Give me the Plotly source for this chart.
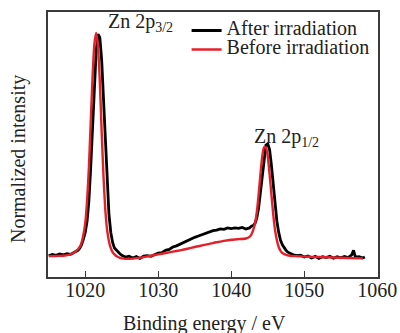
import plotly.graph_objects as go

# ---- data ----
after_x = [1015, 1015.5, 1016, 1016.5, 1017, 1017.5, 1018, 1018.5,
           1019, 1019.25, 1019.5, 1019.75, 1020, 1020.25, 1020.5, 1020.75,
           1021, 1021.25, 1021.5, 1021.75, 1022, 1022.25, 1022.5, 1022.75,
           1023, 1023.25, 1023.5, 1023.75, 1024, 1024.25, 1024.5, 1024.75, 1025,
           1025.25, 1025.5, 1026, 1026.5, 1027, 1027.5, 1028, 1028.5, 1029, 1029.5,
           1030, 1030.5, 1031, 1031.5, 1032, 1032.5, 1033, 1033.5, 1034, 1034.5,
           1035, 1035.5, 1036, 1036.5, 1037, 1037.5, 1038, 1038.5, 1039, 1039.5,
           1040, 1040.5, 1041, 1041.5, 1042, 1042.5,
           1042.75, 1043, 1043.25, 1043.5, 1043.75, 1044, 1044.25, 1044.5, 1044.75,
           1045, 1045.25, 1045.5, 1045.75, 1046, 1046.25, 1046.5, 1046.75,
           1047, 1047.25, 1047.5, 1047.75, 1048,
           1048.5, 1049, 1049.5, 1050, 1050.5, 1051, 1051.5, 1052, 1052.5, 1053,
           1053.5, 1054, 1054.5, 1055, 1055.5, 1056, 1056.5, 1056.75, 1057, 1057.5,
           1058, 1058.3]
after_y = [0.006, 0.012, 0.008, 0.014, 0.010, 0.015, 0.012, 0.020,
           0.030, 0.040, 0.055, 0.080, 0.110, 0.160, 0.250, 0.400,
           0.580, 0.760, 0.920, 0.995, 0.980, 0.880, 0.700, 0.500,
           0.320, 0.190, 0.110, 0.065, 0.040, 0.030, 0.022, 0.015, 0.008,
           0.004, 0.000, 0.004, -0.004, 0.002, -0.006, 0.004, 0.006, 0.003, 0.012,
           0.018, 0.020, 0.030, 0.034, 0.045, 0.050, 0.058, 0.066, 0.072, 0.082,
           0.088, 0.094, 0.100, 0.108, 0.112, 0.118, 0.120, 0.126, 0.124, 0.130,
           0.127, 0.130, 0.128, 0.132, 0.125, 0.130,
           0.138, 0.140, 0.150, 0.175, 0.220, 0.290, 0.370, 0.450, 0.500,
           0.505, 0.480, 0.410, 0.320, 0.230, 0.160, 0.110, 0.075,
           0.055, 0.040, 0.030, 0.022, 0.018,
           0.010, 0.006, 0.008, 0.000, 0.005, -0.004, 0.003, -0.006, 0.002, -0.002,
           0.004, -0.005, 0.002, -0.003, 0.003, -0.002, 0.010, 0.030, 0.000, 0.002,
           -0.004, 0.000]

before_x = [1015, 1016, 1017, 1018, 1018.5,
            1019, 1019.25, 1019.5, 1019.75, 1020, 1020.25, 1020.5, 1020.75,
            1021, 1021.25, 1021.5, 1021.75, 1022, 1022.25, 1022.5, 1022.75,
            1023, 1023.25, 1023.5, 1023.75, 1024, 1024.25, 1024.5, 1024.75, 1025,
            1025.5, 1026, 1027, 1028, 1029, 1030, 1031, 1032, 1033, 1034, 1035,
            1036, 1037, 1038, 1039, 1040, 1041, 1042, 1042.5,
            1042.75, 1043, 1043.25, 1043.5, 1043.75, 1044, 1044.25, 1044.5, 1044.75,
            1045, 1045.25, 1045.5, 1045.75, 1046, 1046.25, 1046.5, 1046.75,
            1047, 1047.5, 1048, 1049, 1050, 1051, 1052, 1054, 1056, 1058]
before_y = [0.004, 0.005, 0.006, 0.012, 0.020,
            0.035, 0.045, 0.065, 0.100, 0.150, 0.250, 0.400, 0.600,
            0.800, 0.950, 1.000, 0.940, 0.780, 0.560, 0.360, 0.210,
            0.120, 0.070, 0.040, 0.022, 0.012, 0.005, 0.000, -0.004, -0.006,
            -0.008, -0.008, -0.005, 0.000, 0.006, 0.012, 0.018, 0.024, 0.030, 0.037, 0.045,
            0.052, 0.059, 0.066, 0.072, 0.077, 0.080, 0.083, 0.090,
            0.100, 0.120, 0.150, 0.200, 0.280, 0.370, 0.450, 0.490, 0.490,
            0.450, 0.370, 0.280, 0.190, 0.120, 0.075, 0.045, 0.028,
            0.018, 0.010, 0.006, 0.004, 0.002, 0.001, 0.000, -0.002, -0.004, -0.006]

tick_vals = [1020, 1030, 1040, 1050, 1060]
series_names = ["After irradiation", "Before irradiation"]
peak_labels = ["Zn 2p<sub>3/2</sub>", "Zn 2p<sub>1/2</sub>"]
x_title = "Binding energy / eV"
y_title = "Normalized intensity"

FONT = "Liberation Serif, Times New Roman, serif"
TXT = "#222222"
AX = "#3a3a3a"


def big(s):
    return '<span style="font-size:20px">' + s + '</span>'


fig = go.Figure()
fig.add_trace(go.Scatter(x=after_x, y=after_y, mode="lines", name=big(series_names[0]),
                         line=dict(color="#000000", width=2.8)))
fig.add_trace(go.Scatter(x=before_x, y=before_y, mode="lines", name=big(series_names[1]),
                         line=dict(color="#e5202a", width=2.4, shape="spline", smoothing=0.6)))

fig.update_layout(
    template="none",
    width=400, height=333, autosize=False,
    margin=dict(l=48, r=22, t=12, b=56, pad=0),
    paper_bgcolor="white", plot_bgcolor="white",
    font=dict(family=FONT, size=20, color=TXT),
    showlegend=True,
    legend=dict(x=0.42, y=0.985, xanchor="left", yanchor="top",
                bgcolor="rgba(0,0,0,0)", borderwidth=0,
                font=dict(family=FONT, size=12, color=TXT),
                itemwidth=30, tracegroupgap=0),
    xaxis=dict(range=[1014.9, 1060.1], tickvals=tick_vals, ticks="inside", ticklen=6,
               tickwidth=1.3, tickcolor=AX, showline=True, linecolor=AX, linewidth=1.5,
               mirror=True, showgrid=False, zeroline=False, ticklabelstandoff=-6,
               tickfont=dict(family=FONT, size=20, color=TXT)),
    yaxis=dict(range=[-0.089, 1.094], showticklabels=False, ticks="",
               showline=True, linecolor=AX, linewidth=1.5, mirror=True,
               showgrid=False, zeroline=False),
    annotations=[
        dict(text=peak_labels[0], x=1022.8, y=1.045, xref="x", yref="y",
             xanchor="left", yanchor="middle", showarrow=False,
             font=dict(family=FONT, size=20, color=TXT)),
        dict(text=peak_labels[1], x=1042.9, y=0.535, xref="x", yref="y",
             xanchor="left", yanchor="middle", showarrow=False,
             font=dict(family=FONT, size=20, color=TXT)),
        dict(text=x_title, x=0.473, y=-0.177, xref="paper", yref="paper",
             xanchor="center", yanchor="middle", showarrow=False,
             font=dict(family=FONT, size=20, color=TXT)),
        dict(text=y_title, x=-0.091, y=0.445, xref="paper", yref="paper",
             xanchor="center", yanchor="middle", showarrow=False, textangle=-90,
             font=dict(family=FONT, size=20, color=TXT)),
    ],
)

fig.write_html("out.html", config={"responsive": False, "displayModeBar": False},
               post_script="document.body.style.margin='0';document.body.style.overflow='hidden';")
